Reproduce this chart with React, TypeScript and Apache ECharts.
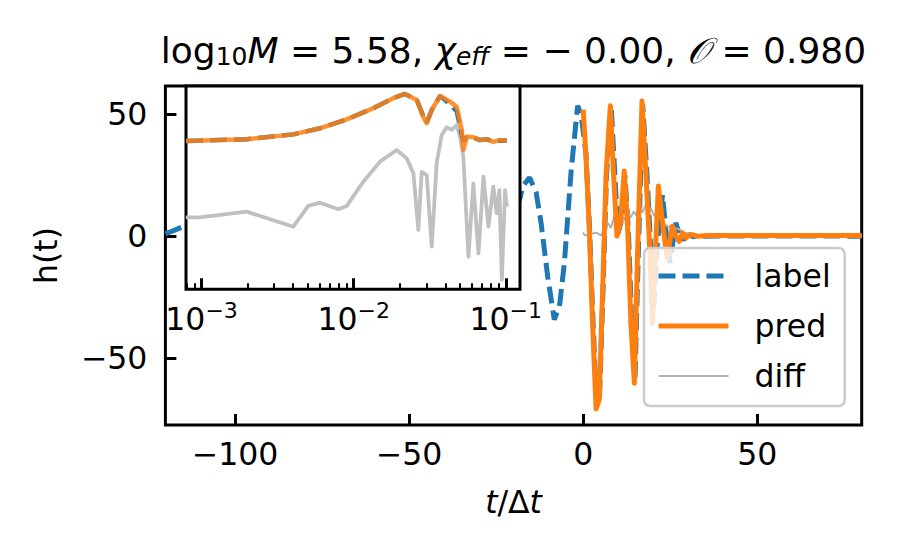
import React, { useEffect, useRef } from 'react';
import * as echarts from 'echarts';

const FONT = 'DejaVu Sans';

// main panel: t/Δt vs h(t)
const labelT = [-120, -117.3, -114.6, -112, -60, -19, -18, -17.3, -15.4, -13.5, -12.1, -10.2, -8.3, -6.8, -5.4, -3.5, -1.6, -0.6, 0.8, 1.8, 2.8, 3.8, 4.7, 5.7, 6.7, 8.1, 9.1, 10.0, 10.9, 12.0, 13.0, 13.9, 14.9, 15.8, 17.1, 18.3, 19.3, 20.2, 21.3, 22.8, 23.7, 24.9, 26.6, 27.8, 28.9, 30.3, 31.6, 33, 35, 40, 80];
const labelH = [1.0, 2.5, 4.1, 5.0, null, 12, 16.4, 20.6, 24.1, 17.9, 5.5, -16.5, -34.3, -28.8, -11, 26.1, 53.6, 50, 34, 4, -34, -68, -66, -22, 25, 52, 25, 1, 6, 25, 2, -34, -58, -9, 54, 26, -2, -30, -3, 17, 3, -11, 5.5, 0, -1.4, 0.7, -0.3, 0.4, 0, 0.1, 0];

const predT = [0, 0.8, 1.8, 2.7, 3.7, 4.6, 5.6, 6.6, 7.8, 8.7, 9.7, 10.7, 11.8, 12.8, 13.7, 14.7, 15.6, 16.9, 18.0, 19.0, 19.9, 20.9, 21.6, 22.8, 24.1, 25.6, 26.6, 27.6, 28.5, 29.5, 30.9, 32.8, 36, 80];
const predH = [52, 33, 1.4, -35.7, -71, -67.3, -22, 26, 53.6, 26, 0, 5.5, 26.8, 2.8, -35.7, -60.4, -8.2, 55.5, 26.1, -1.4, -35.7, -1.4, 20.6, 5.5, -9, 4.1, 0, -2.1, 1.4, -0.7, 0.7, 0, 0.3, 0.3];

const diffT = [-0.1, 0.6, 1.8, 2.7, 3.7, 5.1, 6.1, 7.0, 8.0, 8.9, 9.9, 10.9, 11.8, 12.8, 13.7, 14.5, 15.2, 16.1, 17.0, 18.0, 19.0, 19.4, 20.4, 21.4, 22.8, 24.2, 25.6, 27.6, 29.0, 31.4, 35, 80];
const diffH = [1.4, 0.3, 0.7, 1.1, 1.4, 0.3, 2.8, 5.5, 3.5, 8.2, 6.2, 9.6, 6.5, 10.3, 7.7, 10.2, 8.5, 13.1, 9.6, 13.1, 9.4, 11.7, 8.2, 11.0, 5.5, 4.1, 3.5, 2.8, 1.4, 0.7, 0.3, 0.2];

// inset: frequency spectra (arbitrary log-amplitude units, 0..100)
const specF = [7.9e-4, 1.98e-3, 4.01e-3, 6.0e-3, 9.0e-3, 1.34e-2, 1.82e-2, 2.17e-2, 2.60e-2, 2.86e-2, 3.02e-2, 3.26e-2, 3.70e-2, 4.30e-2, 4.76e-2, 5.14e-2, 5.26e-2, 5.54e-2, 6.12e-2, 6.78e-2, 7.50e-2, 8.28e-2, 9.18e-2, 0.1016];
const predSpec = [72.9, 73.8, 76.2, 79.2, 83.6, 89.0, 94.0, 96.1, 93.1, 84.9, 81.7, 88.2, 95.1, 92.3, 89.8, 78.4, 68.5, 75.1, 74.8, 73.4, 73.8, 72.5, 73.4, 73.1];
const labelSpec = [72.9, 73.8, 76.2, 79.2, 83.6, 89.0, 94.0, 96.1, 93.1, 85.5, 82.0, 88.2, 95.1, 91.0, 87.5, 75.9, 73.0, 74.5, 74.5, 73.4, 73.8, 72.8, 73.2, 73.1];
const diffF = [7.88e-4, 9.75e-4, 1.98e-3, 4.01e-3, 5.03e-3, 6.0e-3, 7.92e-3, 9.0e-3, 1.157e-2, 1.49e-2, 1.92e-2, 2.23e-2, 2.47e-2, 2.66e-2, 2.80e-2, 3.02e-2, 3.26e-2, 3.51e-2, 3.79e-2, 4.09e-2, 4.41e-2, 4.76e-2, 5.0e-2, 5.26e-2, 5.68e-2, 6.12e-2, 6.61e-2, 7.13e-2, 7.69e-2, 8.28e-2, 8.72e-2, 9.08e-2, 9.42e-2, 9.89e-2, 0.1016];
const diffSpec = [35.4, 35.4, 38.2, 30.8, 41.0, 42.6, 39.4, 41.0, 52.9, 62.8, 68.5, 64.4, 57.1, 29.2, 57.8, 56.2, 21.0, 62.0, 75.9, 79.7, 78.4, 80.8, 75.1, 65.2, 16.0, 52.1, 17.7, 55.4, 30.8, 50.5, 37.4, 48.8, 4.6, 48.8, 40.6];

// ticks
const xTicks = [-100, -50, 0, 50];
const yTicks = [-50, 0, 50];
const insetMajor = [1e-3, 1e-2, 1e-1];
const insetMinor = [8e-4, 9e-4, 2e-3, 3e-3, 4e-3, 5e-3, 6e-3, 7e-3, 8e-3, 9e-3, 2e-2, 3e-2, 4e-2, 5e-2, 6e-2, 7e-2, 8e-2, 9e-2];
const legendNames = ['label', 'pred', 'diff'];

const BLUE = '#1f77b4';
const ORANGE = '#ff7f0e';
const GRAY = '#b3b3b3';

function pairs(xs: number[], ys: (number | null)[]) {
  return xs.map((x, i) => [x, ys[i] === null ? '-' : ys[i]]);
}

const minus = (v: number) => String(v).replace('-', '\u2212');

export default function App() {
  const ref = useRef<HTMLDivElement>(null);
  useEffect(() => {
    document.body.style.margin = '0';
    const chart = echarts.init(ref.current!, null, { renderer: 'svg' });
    const tickStyle = { color: '#000', width: 3 };
    const labelStyle = { fontSize: 31.5, fontFamily: FONT, color: '#000' };
    const option: any = {
      animation: false,
      backgroundColor: '#fff',
      grid: [
        { left: 165.4, top: 86, width: 696.3, height: 339, show: true, borderColor: '#000', borderWidth: 3, backgroundColor: 'transparent', z: 0, containLabel: false, outerBoundsMode: 'none' },
        { left: 186, top: 86, width: 334, height: 203.3, show: true, borderColor: '#000', borderWidth: 3, backgroundColor: '#fff', z: 3, containLabel: false, outerBoundsMode: 'none' },
      ],
      xAxis: [
        {
          type: 'value', gridIndex: 0, min: -120, max: 80,
          axisLine: { show: false, onZero: false }, splitLine: { show: false },
          axisTick: { inside: true, length: 11, lineStyle: tickStyle, customValues: xTicks },
          axisLabel: { ...labelStyle, margin: 13, customValues: xTicks, formatter: (v: number) => minus(v) },
          name: '{i|t}{n|/\u0394}{i|t}', nameLocation: 'middle', nameGap: 59,
          nameTextStyle: {
            rich: {
              i: { fontSize: 31.5, fontFamily: FONT, fontStyle: 'italic', color: '#000', lineHeight: 36 },
              n: { fontSize: 31.5, fontFamily: FONT, color: '#000', lineHeight: 36 },
            },
          },
        },
        {
          type: 'log', logBase: 10, gridIndex: 1, min: 7.9e-4, max: 0.124, z: 5, position: 'bottom',
          axisLine: { show: false, onZero: false }, splitLine: { show: false }, minorTick: { show: false },
          axisTick: { inside: true, length: 11, lineStyle: tickStyle, customValues: insetMajor },
          axisLabel: {
            margin: 10, customValues: insetMajor,
            formatter: (v: number) => '{b|10}{s|\u2212' + String(-Math.round(Math.log10(v))) + '}',
            rich: {
              b: { fontSize: 31.5, fontFamily: FONT, color: '#000', lineHeight: 36, verticalAlign: 'bottom' },
              s: { fontSize: 22, fontFamily: FONT, color: '#000', lineHeight: 20, verticalAlign: 'top' },
            },
          },
        },
        {
          type: 'log', logBase: 10, gridIndex: 1, min: 7.9e-4, max: 0.124, z: 5, position: 'bottom',
          axisLine: { show: false, onZero: false }, splitLine: { show: false }, minorTick: { show: false },
          axisTick: { inside: true, length: 6, lineStyle: { color: '#000', width: 2 }, customValues: insetMinor },
          axisLabel: { show: false },
        },
      ],
      yAxis: [
        {
          type: 'value', gridIndex: 0, min: -77.6, max: 61.7,
          axisLine: { show: false, onZero: false }, splitLine: { show: false },
          axisTick: { inside: true, length: 11, lineStyle: tickStyle, customValues: yTicks },
          axisLabel: { ...labelStyle, margin: 18, customValues: yTicks, formatter: (v: number) => minus(v) },
          name: 'h(t)', nameLocation: 'middle', nameGap: 103,
          nameTextStyle: { fontSize: 31.5, fontFamily: FONT, color: '#000' },
        },
        { type: 'value', gridIndex: 1, min: 0, max: 100, show: false, splitLine: { show: false }, axisLine: { onZero: false } },
      ],
      legend: {
        data: [
          { name: legendNames[0], lineStyle: { width: 5, type: [17, 7] } },
          { name: legendNames[1], lineStyle: { width: 5 } },
          { name: legendNames[2], lineStyle: { width: 2.2 } },
        ],
        orient: 'vertical', left: 644, top: 248,
        padding: [10, 14, 12, 12], itemWidth: 70, itemHeight: 14, itemGap: 14,
        backgroundColor: 'rgba(255,255,255,0.8)', borderColor: '#cccccc', borderWidth: 2.5, borderRadius: 6,
        textStyle: { fontSize: 31.5, fontFamily: FONT, color: '#000', lineHeight: 36, padding: [0, 0, 0, 21] },
        itemStyle: { opacity: 0 },
        selectedMode: false, z: 6,
      },
      graphic: [
        {
          type: 'text', x: 513.5, y: 24.5, z: 10,
          style: {
            text: '{n|log}{s|10}{i|M}{n| = 5.58, }{i|\u03c7}{si|eff}{n| = \u2212 0.00, }{i|\ud835\udcaa}{n| = 0.980}',
            align: 'center', verticalAlign: 'top', fontFamily: FONT, fontSize: 36, fill: '#000',
            rich: {
              n: { fontSize: 36, lineHeight: 44, verticalAlign: 'bottom', fontFamily: FONT, fill: '#000' },
              i: { fontSize: 36, lineHeight: 44, verticalAlign: 'bottom', fontFamily: FONT, fontStyle: 'italic', fill: '#000' },
              s: { fontSize: 25, lineHeight: 18, verticalAlign: 'bottom', fontFamily: FONT, fill: '#000' },
              si: { fontSize: 25, lineHeight: 18, verticalAlign: 'bottom', fontFamily: FONT, fontStyle: 'italic', fill: '#000' },
            },
          },
        },
      ],
      series: [
        {
          name: 'label', type: 'line', xAxisIndex: 0, yAxisIndex: 0, data: pairs(labelT, labelH),
          symbol: 'none', showSymbol: false, z: 2, color: BLUE,
          lineStyle: { color: BLUE, width: 5, type: [17, 7], cap: 'butt' },
        },
        {
          name: 'diff', type: 'line', xAxisIndex: 0, yAxisIndex: 0, data: pairs(diffT, diffH),
          symbol: 'none', showSymbol: false, z: 2, color: GRAY,
          lineStyle: { color: GRAY, width: 2 },
        },
        {
          name: 'pred', type: 'line', xAxisIndex: 0, yAxisIndex: 0, data: pairs(predT, predH),
          symbol: 'none', showSymbol: false, z: 2, color: ORANGE,
          lineStyle: { color: ORANGE, width: 5, join: 'round' },
        },
        {
          name: 'diff_f', type: 'line', xAxisIndex: 1, yAxisIndex: 1, data: pairs(diffF, diffSpec),
          symbol: 'none', showSymbol: false, z: 4, color: '#c0c0c0',
          lineStyle: { color: '#c0c0c0', width: 3.8, join: 'round' },
        },
        {
          name: 'label_f', type: 'line', xAxisIndex: 1, yAxisIndex: 1, data: pairs(specF, labelSpec),
          symbol: 'none', showSymbol: false, z: 4, color: BLUE,
          lineStyle: { color: BLUE, width: 4.5, type: [17, 7], cap: 'butt' },
        },
        {
          name: 'pred_f', type: 'line', xAxisIndex: 1, yAxisIndex: 1, data: pairs(specF, predSpec),
          symbol: 'none', showSymbol: false, z: 4, color: ORANGE,
          lineStyle: { color: ORANGE, width: 4.5, join: 'round', opacity: 0.85 },
        },
      ],
    };
    chart.setOption(option);
    return () => chart.dispose();
  }, []);
  return <div ref={ref} style={{ width: 897, height: 552 }} />;
}
